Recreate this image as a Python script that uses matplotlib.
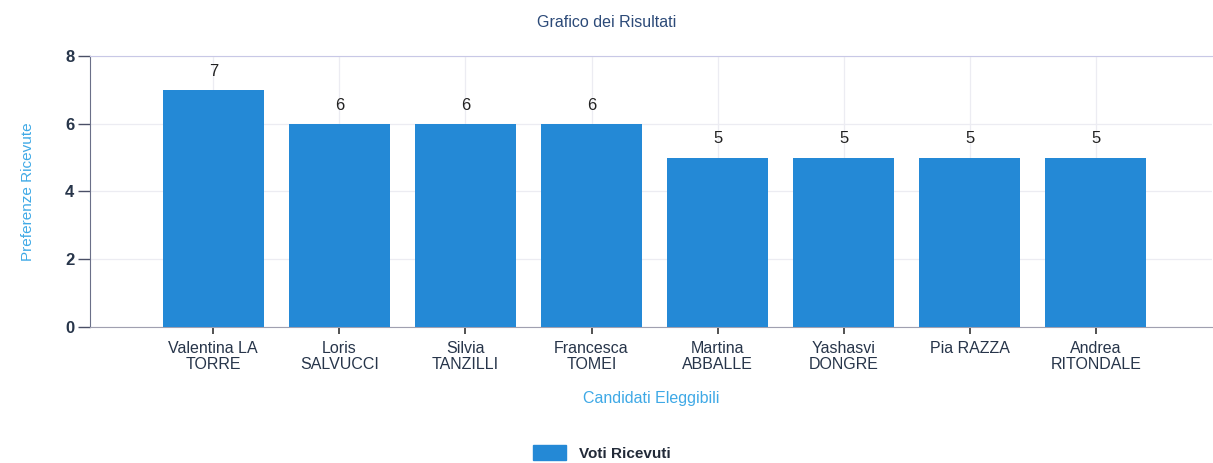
import numpy as np
import matplotlib.pyplot as plt
from matplotlib.patches import Patch

candidati = ['Valentina LA\nTORRE', 'Loris\nSALVUCCI', 'Silvia\nTANZILLI', 'Francesca\nTOMEI',
             'Martina\nABBALLE', 'Yashasvi\nDONGRE', 'Pia RAZZA', 'Andrea\nRITONDALE']
voti = [7, 6, 6, 6, 5, 5, 5, 5]

bar_col = '#2489d6'
light_blue = '#3fa9e6'
dark = '#27354a'

plt.rcParams['font.family'] = ['Liberation Sans', 'DejaVu Sans']

fig = plt.figure(figsize=(12.13, 4.63), dpi=100)
ax = fig.add_axes([0.074, 0.294, 0.925, 0.585])

x = np.arange(len(voti))
bars = ax.bar(x, voti, width=0.8, color=bar_col, zorder=3)

for xi, v in zip(x, voti):
    ax.annotate(str(v), (xi, v), xytext=(0, 8), textcoords='offset points',
                ha='center', va='bottom', fontsize=12, color='#222222')

ax.set_xlim(-0.98, 7.92)
ax.set_ylim(0, 8)
ax.set_yticks([0, 2, 4, 6, 8])
ax.set_xticks(x)
ax.set_xticklabels(candidati, fontsize=11.5, color=dark, linespacing=1.1)
for lab in ax.get_yticklabels():
    lab.set_fontweight('bold')
    lab.set_fontsize(12)
    lab.set_color(dark)

ax.tick_params(axis='y', length=9, width=1, color='#4a4f66', pad=2)
ax.tick_params(axis='x', length=5, width=1.2, color='#333333', pad=5)

ax.grid(True, color='#ececf2', linewidth=0.9, zorder=0)
for side in ['top', 'right']:
    ax.spines[side].set_color('#c8c8e6')
ax.spines['right'].set_visible(False)
ax.spines['left'].set_color('#6a6f88')
ax.spines['bottom'].set_color('#a0a0b0')

ax.set_ylabel('Preferenze Ricevute', fontsize=11, color=light_blue, labelpad=22)
ax.set_xlabel('Candidati Eleggibili', fontsize=11.5, color=light_blue, labelpad=14)
fig.text(0.5, 0.952, 'Grafico dei Risultati', ha='center', va='center',
         fontsize=11.5, color='#2c4a78')

fig.legend(handles=[Patch(color=bar_col, label='Voti Ricevuti')],
           loc='center', bbox_to_anchor=(0.496, 0.022), frameon=False,
           prop={'weight': 'bold', 'size': 11}, handlelength=2.2, handleheight=1.1,
           labelcolor='#222a38')

fig.savefig('out.png', dpi=100)
